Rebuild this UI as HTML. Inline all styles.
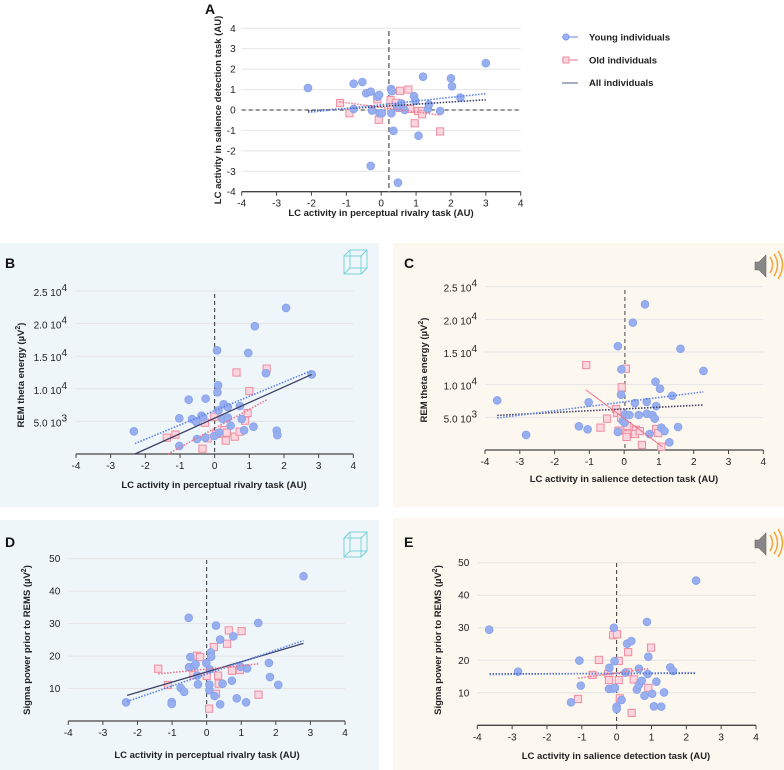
<!DOCTYPE html>
<html><head><meta charset="utf-8"><style>
html,body{margin:0;padding:0;background:#fff;}
svg{display:block;font-family:"Liberation Sans",sans-serif;}
</style></head><body>
<svg id="fig" width="784" height="770" viewBox="0 0 784 770" xmlns="http://www.w3.org/2000/svg">
<rect x="0" y="243" width="379" height="264" fill="#eef6fa"/>
<rect x="393" y="243" width="391" height="264" fill="#fdf8ef"/>
<rect x="0" y="520" width="379" height="250" fill="#eef6fa"/>
<rect x="393" y="518" width="391" height="252" fill="#fdf8ef"/>
<g>
  <g>
    <line x1="562" y1="37" x2="578" y2="37" stroke="#7b97ec" stroke-width="1.2"/>
    <circle cx="566" cy="37" r="3" fill="#9db3f3" stroke="#7b97ec"/>
    <text x="589" y="40.5" font-size="9.5" font-weight="bold" fill="#222">Young individuals</text>
  </g>
  <g>
    <line x1="562" y1="60" x2="578" y2="60" stroke="#f08ca0" stroke-width="1.2"/>
    <rect x="563" y="57" width="6" height="6" fill="#fcd6de" stroke="#f08ca0"/>
    <text x="589" y="63.5" font-size="9.5" font-weight="bold" fill="#222">Old individuals</text>
  </g>
  <g>
    <line x1="562" y1="83" x2="578" y2="83" stroke="#8a90aa" stroke-width="1.5"/>
    <text x="589" y="86" font-size="9.5" font-weight="bold" fill="#222">All individuals</text>
  </g>
</g>
<g fill="none" stroke="#6fd0d6" stroke-width="0.9">
  <rect x="344" y="256" width="17" height="18"/><rect x="350" y="250" width="17" height="18"/>
  <line x1="344" y1="256" x2="350" y2="250"/><line x1="361" y1="256" x2="367" y2="250"/><line x1="344" y1="274" x2="350" y2="268"/><line x1="361" y1="274" x2="367" y2="268"/>
</g>
<g fill="none" stroke="#6fd0d6" stroke-width="0.9">
  <rect x="344" y="538" width="17" height="19"/><rect x="350" y="532" width="17" height="19"/>
  <line x1="344" y1="538" x2="350" y2="532"/><line x1="361" y1="538" x2="367" y2="532"/><line x1="344" y1="557" x2="350" y2="551"/><line x1="361" y1="557" x2="367" y2="551"/>
</g>
<g>
  <path d="M755 262 h4 l7 -7 v22 l-7 -7 h-4z" fill="#888" stroke="#666" stroke-width="0.6"/>
  <path d="M770 257 q5 8 0 16 M774 254 q7 11 0 22 M778 251 q9 14 0 28" fill="none" stroke="#f6a640" stroke-width="1.6"/>
</g>
<g>
  <path d="M755 540 h4 l7 -7 v22 l-7 -7 h-4z" fill="#888" stroke="#666" stroke-width="0.6"/>
  <path d="M770 535 q5 8 0 16 M774 532 q7 11 0 22 M778 529 q9 14 0 28" fill="none" stroke="#f6a640" stroke-width="1.6"/>
</g>
</svg>
<script>
// ---------- Panel A data ----------
const youngX_A=[-2.1,-0.79,-0.54,-0.43,-0.30,-0.11,-0.06,-0.79,-0.26,-0.05,0.02,0.29,0.28,0.31,0.35,-0.3,0.48,1.2,0.58,0.67,0.94,0.98,1.07,1.34,1.37,1.69,2.0,2.03,2.27,3.0,0.46];
const youngY_A=[1.08,1.29,1.37,0.82,0.9,0.65,0.74,0.05,-0.03,-0.16,-0.16,-0.16,1.03,0.92,-1.02,-2.74,-3.56,1.63,0.32,0,0.68,0.45,-1.26,0.05,0.27,-0.05,1.55,1.16,0.61,2.29,0.13];
const oldX_A=[-1.18,-0.91,-0.11,-0.07,0.27,0.42,0.54,0.78,0.28,0.53,0.83,1.06,1.17,1.17,0.96,1.69];
const oldY_A=[0.34,-0.16,0.52,-0.48,0.48,0.35,0.94,1.0,0.13,0.1,0.05,-0.05,-0.05,-0.21,-0.65,-1.05];
const fitYoung_A=[-2.1,-0.12,3.0,0.8];
const fitAll_A=[-2.1,-0.05,3.0,0.5];
const fitOld_A=[-1.2,0.4,1.7,-0.25];
const xTicks=[-4,-3,-2,-1,0,1,2,3,4];
const yTicks_A=[-4,-3,-2,-1,0,1,2,3,4];
// ---------- Panel B data (thousands) ----------
const youngX_B=[-2.33,-1.02,-1.02,-0.75,-0.65,-0.53,-0.38,-0.33,-0.51,-0.26,-0.27,-0.01,0.07,0.1,0.08,0.11,0.13,0.26,0.23,0.38,0.38,0.46,0.73,0.78,0.85,0.97,1.12,1.16,1.48,1.79,1.81,2.06,2.8];
const youngY_B=[3.48,5.47,1.23,8.33,5.37,4.9,5.88,5.62,2.3,8.49,2.5,2.76,15.9,10.53,9.46,6.7,3.27,7.62,5.37,7.2,5.57,4.35,7.36,5.37,3.63,15.5,4.19,19.6,12.4,3.58,2.9,22.4,12.2];
const oldX_B=[-1.38,-1.13,-0.35,-0.28,-0.2,-0.01,0.04,0.2,0.27,0.35,0.32,0.58,0.63,0.72,0.88,0.95,1.0,1.5];
const oldY_B=[2.5,2.97,0.82,4.8,2.4,5.73,3.07,3.07,3.68,3.27,2.05,2.66,12.5,3.43,5.11,6.29,9.66,13.1];
const fitAll_B=[-2.3,0,2.8,12.2];
const fitYoung_B=[-2.3,1.6,2.8,12.8];
const fitOld_B=[-1.35,0,1.5,8.3];
const yTicks_B=[5,10,15,20,25];
const yTickLabels_B=["5.0 10","1.0 10","1.5 10","2.0 10","2.5 10"];
const yTickExp_B=["3","4","4","4","4"];
// ---------- Panel C data (thousands) ----------
const youngX_C=[-3.65,-2.82,-1.3,-1.05,-1.02,-0.18,-0.18,-0.08,-0.09,-0.04,0.02,0.01,0.25,0.31,0.15,0.42,0.6,0.65,0.65,0.73,0.81,0.88,0.9,0.92,1.03,1.07,1.16,1.3,1.38,1.55,1.62,2.28];
const youngY_C=[7.6,2.3,3.62,3.16,7.3,15.9,2.76,12.35,8.47,4.44,5.46,4.18,19.5,7.19,5.36,5.36,22.3,7.35,5.56,2.45,5.36,4.8,10.46,6.73,9.39,3.42,2.9,1.17,8.3,3.52,15.5,12.1];
const oldX_C=[-1.09,-0.68,-0.49,-0.23,-0.2,-0.16,-0.07,-0.09,0.05,0.09,0.09,0.07,0.34,0.31,0.45,0.51,0.92,0.98,1.07];
const oldY_C=[13.0,3.42,4.8,6.28,5.7,2.96,9.6,4.95,12.45,3.67,2.4,2.0,3.1,2.45,2.9,0.77,3.21,2.6,0.51];
const fitYoung_C=[-3.65,4.9,2.28,8.9];
const fitAll_C=[-3.65,5.3,2.28,6.9];
const fitOld_C=[-1.1,9.2,1.1,0.5];
const yTickLabels_C=["5.0  10","1.0  10","1.5  10","2.0  10","2.5  10"];
// ---------- Panel D data ----------
const youngX_D=[-2.33,-1.01,-1.01,-0.75,-0.65,-0.52,-0.47,-0.51,-0.36,-0.32,-0.27,-0.25,-0.01,0.08,0.08,0.09,0.12,0.13,0.23,0.27,0.39,0.39,0.46,0.73,0.77,0.87,0.98,1.14,1.17,1.49,1.8,1.83,2.07,2.8];
const youngY_D=[5.75,5.85,5.24,10.2,9.0,31.8,19.7,16.6,16.9,17.5,14.0,11.3,17.8,9.5,11.2,15.9,21.1,19.8,7.7,29.4,25.1,5.13,11.5,12.4,26.1,7.0,16.7,5.75,16.2,30.2,17.9,13.55,11.1,44.6];
const oldX_D=[-1.4,-1.12,-0.38,-0.28,-0.19,0,0.07,0.21,0.27,0.33,0.35,0.59,0.64,0.73,0.96,1.01,1.5];
const oldY_D=[16.1,11.1,14.1,20.1,19.7,13.9,3.8,22.8,8.4,14.0,11.5,23.8,27.9,15.5,15.7,27.7,8.1];
const fitAll_D=[-2.3,7.9,2.8,23.9];
const fitYoung_D=[-2.3,6.0,2.8,24.8];
const fitOld_D=[-1.4,14.5,1.5,17.6];
const yTicks_D=[10,20,30,40,50];
// ---------- Panel E data ----------
const youngX_E=[-3.66,-2.83,-1.31,-1.07,-1.03,-0.21,-0.22,-0.11,-0.05,-0.08,-0.06,0,0,0.14,0.25,0.3,0.42,0.58,0.64,0.64,0.72,0.8,0.87,0.89,0.91,1.02,1.07,1.14,1.28,1.36,1.54,1.62,2.28];
const youngY_E=[29.4,16.5,7.07,19.9,12.2,17.7,11.2,11.3,11.5,30.0,19.7,5.74,5.0,7.8,16.2,25.1,25.9,11.0,17.4,12.5,13.7,9.1,31.8,15.8,21.1,9.7,5.84,13.4,5.74,10.1,17.8,16.7,44.5];
const oldX_E=[-1.11,-0.69,-0.51,-0.24,-0.22,-0.1,0.01,0.06,0.06,0.09,0.33,0.33,0.49,0.43,0.91,0.99];
const oldY_E=[8.1,15.5,20.1,15.8,13.9,27.7,28.0,19.8,13.9,8.3,22.5,16.3,14.1,3.8,11.5,23.9];
const fitYoung_E=[-3.65,15.6,2.28,16.2];
const fitAll_E=[-3.65,15.8,2.28,16.0];
const fitOld_E=[-1.1,14.5,0.95,17.5];

const NS="http://www.w3.org/2000/svg";
const svg=document.getElementById('fig');
function mk(tag,attrs,parent){const e=document.createElementNS(NS,tag);for(const k in attrs)e.setAttribute(k,attrs[k]);(parent||svg).appendChild(e);return e;}

function panel(cfg){
  const g=mk('g',{});
  
  
  const sx=v=>cfg.px0+(v-cfg.xmin)/(cfg.xmax-cfg.xmin)*(cfg.px1-cfg.px0);
  const sy=v=>cfg.py0-(v-cfg.ymin)/(cfg.ymax-cfg.ymin)*(cfg.py0-cfg.py1);
  cfg.yTicks.forEach((t,i)=>{
    if(t!==cfg.ymin){
      const gl=mk('line',{x1:cfg.px0,x2:cfg.px1,y1:sy(t),y2:sy(t),stroke:'#e4e4e4','stroke-width':1},g);
      
      
    }
    const tl=mk('text',{x:cfg.px0-cfg.labGap,y:sy(t)+3.5,'font-size':10,fill:'#222','text-anchor':'end'},g);
    
    
    if(cfg.yLabels){
      tl.textContent=cfg.yLabels[i];
      const ts=mk('tspan',{dy:-5,'font-size':10},tl);ts.textContent=cfg.yExp[i];
      tl.setAttribute('y',sy(t)+5);
    } else tl.textContent=String(t);
  });
  const ax=mk('line',{x1:cfg.px0,x2:cfg.px1,y1:cfg.py0,y2:cfg.py0,stroke:'#444','stroke-width':1.3},g);
  
  
  xTicks.forEach(t=>{
    mk('line',{x1:sx(t),x2:sx(t),y1:cfg.py0,y2:cfg.py0+4,stroke:'#444','stroke-width':1},g);
    const tl=mk('text',{x:sx(t),y:cfg.py0+15,'font-size':10,fill:'#222','text-anchor':'middle'},g);
    
    
    tl.textContent=String(t);
  });
  if(cfg.hzero){
    const h=mk('line',{x1:cfg.px0,x2:cfg.px1,y1:sy(0),y2:sy(0),stroke:'#333','stroke-width':1,'stroke-dasharray':'4,3'},g);
    
    
  }
  const v=mk('line',{x1:sx(cfg.vx),x2:sx(cfg.vx),y1:cfg.vtop,y2:cfg.py0,stroke:cfg.vcol,'stroke-width':cfg.vw,'stroke-dasharray':cfg.vdash},g);
  
  
  cfg.oldX.forEach((x,i)=>{
    const r=mk('rect',{x:sx(x)-3.6,y:sy(cfg.oldY[i])-3.6,width:7.2,height:7.2,fill:'#fcd6de',stroke:'#f08ca0','stroke-width':1},g);
    
    
  });
  cfg.youngX.forEach((x,i)=>{
    const c=mk('circle',{cx:sx(x),cy:sy(cfg.youngY[i]),r:3.9,fill:'#98afef',stroke:'#86a0ec','stroke-width':0.8},g);
    
    
  });
  const fl=(f,col,dash,w,name)=>{
    const l=mk('line',{x1:sx(f[0]),y1:sy(f[1]),x2:sx(f[2]),y2:sy(f[3]),stroke:col,'stroke-width':w,'stroke-dasharray':dash},g);
    
    
  };
  fl(cfg.fitAll,'#3d4166',cfg.allDash,cfg.allDash==='none'?1.3:1.6,'fit-line-all');
  fl(cfg.fitYoung,'#5f82ee',cfg.youngDash,1.6,'fit-line-young');
  fl(cfg.fitOld,'#f07088',cfg.oldDash,cfg.oldDash==='none'?1:1.5,'fit-line-old');
  const xt=mk('text',{x:cfg.xtx,y:cfg.xty,'font-size':9.5,'font-weight':'bold',fill:'#222','text-anchor':'middle'},g);
  
  
  xt.textContent=cfg.xTitle;
  const yt=mk('text',{x:0,y:0,'font-size':9.5,'font-weight':'bold',fill:'#222','text-anchor':'middle',transform:`translate(${cfg.ytx},${cfg.yty}) rotate(-90)`},g);
  
  
  yt.innerHTML=cfg.yTitle;
  const pl=mk('text',{x:cfg.lx,y:cfg.ly,'font-size':14,'font-weight':'bold',fill:'#111'},g);
  
  
  pl.textContent=cfg.id.toUpperCase();
}
const PR='LC activity in perceptual rivalry task (AU)';
const SD='LC activity in salience detection task (AU)';
const REM='REM theta energy (µV<tspan dy="-4" font-size="7">2</tspan><tspan dy="4">)</tspan>';
const SIG='Sigma power prior to REMS (µV<tspan dy="-4" font-size="7">2</tspan><tspan dy="4">)</tspan>';
panel({id:'a',xmin:-4,xmax:4,px0:241.7,px1:520.7,ymin:-4,ymax:4,py0:191.7,py1:28.3,yTicks:yTicks_A,labGap:6,
  youngX:youngX_A,youngY:youngY_A,oldX:oldX_A,oldY:oldY_A,fitAll:fitAll_A,fitYoung:fitYoung_A,fitOld:fitOld_A,
  allDash:'1.5,1.5',youngDash:'1.5,1.5',oldDash:'1.5,1.5',hzero:true,vx:0.22,vtop:31,vcol:'#888',vw:1.8,vdash:'5,3',
  xtx:381,xty:216,xTitle:'LC activity in perceptual rivalry  task (AU)',ytx:221,yty:110,yTitle:'LC activity in salience detection task (AU)',lx:205,ly:14});
panel({id:'b',xmin:-4,xmax:4,px0:76,px1:353.3,ymin:0,ymax:25,py0:454,py1:291,yTicks:yTicks_B,yLabels:yTickLabels_B,yExp:yTickExp_B,labGap:9,
  youngX:youngX_B,youngY:youngY_B,oldX:oldX_B,oldY:oldY_B,fitAll:fitAll_B,fitYoung:fitYoung_B,fitOld:fitOld_B,
  allDash:'none',youngDash:'1.5,1.5',oldDash:'1.5,1.5',hzero:false,vx:0,vtop:294,vcol:'#333',vw:1,vdash:'4,3',
  xtx:214,xty:488,xTitle:PR,ytx:24,yty:375,yTitle:REM,lx:5,ly:268});
panel({id:'c',xmin:-4,xmax:4,px0:485,px1:763.3,ymin:0,ymax:25,py0:450,py1:286.7,yTicks:yTicks_B,yLabels:yTickLabels_C,yExp:yTickExp_B,labGap:8,
  youngX:youngX_C,youngY:youngY_C,oldX:oldX_C,oldY:oldY_C,fitAll:fitAll_C,fitYoung:fitYoung_C,fitOld:fitOld_C,
  allDash:'1.5,1.5',youngDash:'1.5,1.5',oldDash:'none',hzero:false,vx:0.02,vtop:290,vcol:'#888',vw:1.6,vdash:'4,3',
  xtx:624,xty:482,xTitle:SD,ytx:427,yty:370,yTitle:REM,lx:404,ly:268});
panel({id:'d',xmin:-4,xmax:4,px0:68.3,px1:345,ymin:0,ymax:50,py0:721,py1:558.7,yTicks:yTicks_D,labGap:8,
  youngX:youngX_D,youngY:youngY_D,oldX:oldX_D,oldY:oldY_D,fitAll:fitAll_D,fitYoung:fitYoung_D,fitOld:fitOld_D,
  allDash:'none',youngDash:'1.5,1.5',oldDash:'1.5,1.5',hzero:false,vx:0,vtop:560,vcol:'#333',vw:1,vdash:'4,3',
  xtx:207,xty:758,xTitle:PR,ytx:30,yty:640,yTitle:SIG,lx:5,ly:547});
panel({id:'e',xmin:-4,xmax:4,px0:477.3,px1:756,ymin:0,ymax:50,py0:725.3,py1:562.7,yTicks:yTicks_D,labGap:8,
  youngX:youngX_E,youngY:youngY_E,oldX:oldX_E,oldY:oldY_E,fitAll:fitAll_E,fitYoung:fitYoung_E,fitOld:fitOld_E,
  allDash:'1.5,1.5',youngDash:'1.5,1.5',oldDash:'1.5,1.5',hzero:false,vx:0,vtop:563,vcol:'#333',vw:1,vdash:'4,3',
  xtx:616,xty:759,xTitle:SD,ytx:441,yty:640,yTitle:SIG,lx:404,ly:547});
</script>
</body></html>
